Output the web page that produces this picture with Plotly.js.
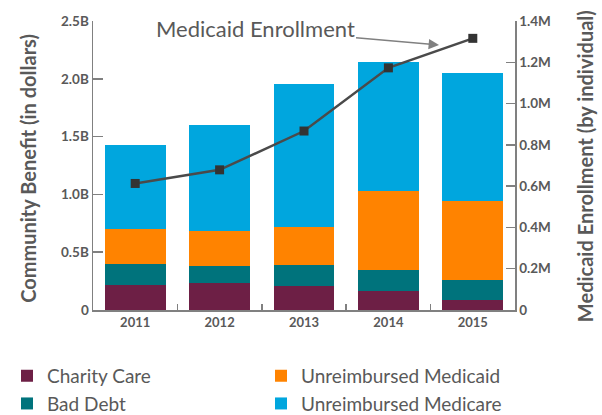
<!DOCTYPE html>
<html>
<head>
<meta charset="utf-8">
<script src="https://cdn.plot.ly/plotly-3.0.1.min.js"></script>
<style>html,body{margin:0;padding:0;background:#fff;}#chart{width:602px;height:415px;}</style>
</head>
<body>
<div id="chart"></div>
<script>
// Data (billions of dollars / millions of enrollees)
const years = ["2011", "2012", "2013", "2014", "2015"];
const charityCare = [0.216, 0.233, 0.207, 0.164, 0.086];
const badDebt = [0.181, 0.146, 0.181, 0.181, 0.173];
const unreimbursedMedicaid = [0.301, 0.302, 0.328, 0.681, 0.681];
const unreimbursedMedicare = [0.733, 0.922, 1.241, 1.121, 1.106];
const medicaidEnrollment = [0.613, 0.679, 0.867, 1.173, 1.316];

const leftTickVals = [0, 0.5, 1.0, 1.5, 2.0, 2.5];
const leftTickText = ["0", "0.5B", "1.0B", "1.5B", "2.0B", "2.5B"];
const rightTickVals = [0, 0.2, 0.4, 0.6, 0.8, 1.0, 1.2, 1.4];
const rightTickText = ["0", "0.2M", "0.4M", "0.6M", "0.8M", "1.0M", "1.2M", "1.4M"];

const FONT = "Lato, 'Open Sans', sans-serif";
const GREY = "#595959";
const AXIS = "#808080";

const traces = [
  {type: "bar", name: "Charity Care", x: years, y: charityCare, marker: {color: "#6d1f45"}, legend: "legend"},
  {type: "bar", name: "Bad Debt", x: years, y: badDebt, marker: {color: "#00737c"}, legend: "legend"},
  {type: "bar", name: "Unreimbursed Medicaid", x: years, y: unreimbursedMedicaid, marker: {color: "#ff8300"}, legend: "legend2"},
  {type: "bar", name: "Unreimbursed Medicare", x: years, y: unreimbursedMedicare, marker: {color: "#00a6de"}, legend: "legend2"},
  {type: "scatter", mode: "lines+markers", name: "Medicaid Enrollment", x: years, y: medicaidEnrollment, yaxis: "y2",
   line: {color: "#4a4a4a", width: 2.5}, marker: {symbol: "square", size: 9, color: "#333333"}, showlegend: false}
];

const legendBase = {
  orientation: "v", xref: "container", yref: "container",
  y: 0.14, xanchor: "left", yanchor: "top",
  font: {family: FONT, size: 19, color: GREY},
  tracegroupgap: 0, itemwidth: 30, traceorder: "normal", bgcolor: "rgba(0,0,0,0)"
};

const titleFont = {family: FONT, size: 20, color: GREY, weight: "bold"};

const layout = {
  width: 602, height: 415,
  margin: {l: 93, r: 87, t: 21, b: 105, pad: 0, autoexpand: false},
  paper_bgcolor: "#fff", plot_bgcolor: "#fff",
  barmode: "stack", bargap: 0.28,
  font: {family: FONT, color: GREY},
  showlegend: true,
  legend: Object.assign({}, legendBase, {x: 0.0116}),
  legend2: Object.assign({}, legendBase, {x: 0.4336}),
  xaxis: {
    type: "category", range: [-0.5, 4.5],
    showline: true, linecolor: AXIS, linewidth: 1.5,
    ticks: "inside", tickson: "boundaries", ticklen: 6, tickcolor: AXIS, tickwidth: 1.5,
    tickfont: {family: FONT, size: 13, color: GREY, weight: "bold"},
    showgrid: false, zeroline: false, fixedrange: true
  },
  yaxis: {
    range: [0, 2.5], tickvals: leftTickVals, ticktext: leftTickText,
    showline: true, linecolor: AXIS, linewidth: 1.5,
    ticks: "inside", ticklen: 10, tickcolor: AXIS, tickwidth: 1.5,
    tickfont: {family: FONT, size: 13.5, color: GREY, weight: "bold"},
    showgrid: false, zeroline: false
  },
  yaxis2: {
    overlaying: "y", side: "right",
    range: [0, 1.4], tickvals: rightTickVals, ticktext: rightTickText,
    showline: true, linecolor: AXIS, linewidth: 1.5,
    ticks: "inside", ticklen: 9, tickcolor: AXIS, tickwidth: 1.5,
    tickfont: {family: FONT, size: 13.5, color: GREY, weight: "bold"},
    showgrid: false, zeroline: false
  },
  annotations: [
    {
      xref: "paper", yref: "paper", x: 0.82, y: 0.917,
      axref: "pixel", ayref: "pixel", ax: -184, ay: -16,
      text: "Medicaid Enrollment", showarrow: true,
      arrowhead: 2, arrowsize: 1.6, arrowwidth: 1.3, arrowcolor: "#808080",
      font: {family: FONT, size: 22, color: GREY}
    },
    {
      xref: "paper", yref: "paper", x: -0.153, y: 0.49, xanchor: "center", yanchor: "middle",
      text: "Community Benefit (in dollars)", textangle: -90, showarrow: false, font: titleFont
    },
    {
      xref: "paper", yref: "paper", x: 1.166, y: 0.498, xanchor: "center", yanchor: "middle",
      text: "Medicaid Enrollment (by individual)", textangle: -90, showarrow: false, font: titleFont
    }
  ]
};

Plotly.newPlot("chart", traces, layout, {displayModeBar: false, staticPlot: true});
</script>
</body>
</html>
